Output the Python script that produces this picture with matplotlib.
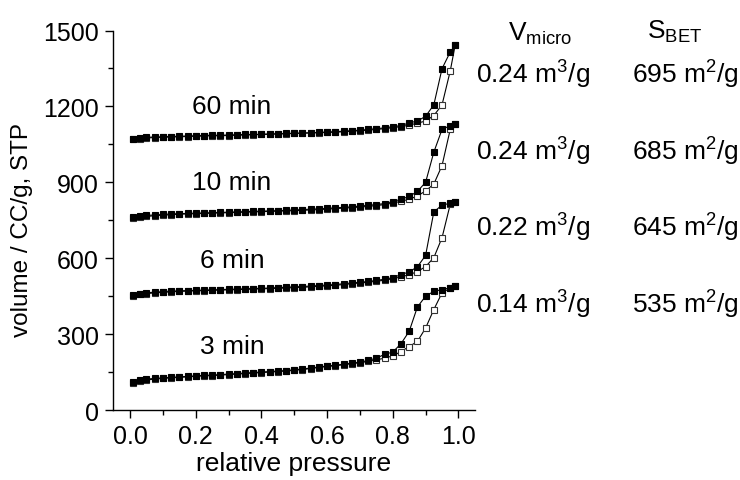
import matplotlib
matplotlib.use("Agg")
import matplotlib.pyplot as plt
from matplotlib.ticker import MultipleLocator

plt.rcParams["font.family"] = ["Liberation Sans", "DejaVu Sans"]
plt.rcParams["mathtext.fontset"] = "custom"
plt.rcParams["mathtext.rm"] = "Liberation Sans"
plt.rcParams["mathtext.it"] = "Liberation Sans:italic"

# relative pressure grid (adsorption branch, ascending)
ads_p = [0.01, 0.03, 0.05, 0.075, 0.10, 0.125, 0.15, 0.175, 0.20, 0.225,
         0.25, 0.275, 0.30, 0.325, 0.35, 0.375, 0.40, 0.425, 0.45, 0.475,
         0.50, 0.525, 0.55, 0.575, 0.60, 0.625, 0.65, 0.675, 0.70, 0.725,
         0.75, 0.775, 0.80, 0.825, 0.85, 0.875, 0.90, 0.925, 0.95, 0.975, 0.99]
# desorption branch, descending
des_p = ads_p[::-1]

ads_3 = [112, 118, 122, 125, 127, 129, 131, 133, 135, 137,
         138, 140, 142, 144, 146, 148, 150, 152, 154, 156,
         159, 162, 166, 170, 174, 177, 181, 185, 189, 196,
         205, 220, 229, 262, 311, 407, 450, 469, 476, 483, 490]
des_3 = [490, 482, 463, 397, 324, 271, 251, 231, 214, 205,
         198, 192, 187, 183, 179, 175, 172, 168, 164, 160,
         157, 154, 152, 150, 148, 146, 144, 142, 140, 138,
         136, 135, 133, 131, 129, 127, 125, 122, 119, 115, 108]

ads_6 = [456, 460, 463, 466, 468, 470, 471, 472, 473, 474,
         475, 476, 477, 478, 479, 480, 481, 482, 484, 485,
         487, 488, 490, 492, 494, 496, 499, 502, 505, 508,
         512, 517, 523, 535, 546, 566, 611, 783, 810, 817, 823]
des_6 = [823, 813, 681, 602, 567, 547, 535, 526, 519, 513,
         509, 505, 502, 499, 496, 493, 491, 489, 487, 485,
         484, 482, 481, 480, 479, 478, 477, 476, 475, 474,
         473, 472, 471, 470, 469, 467, 465, 463, 460, 457, 450]

ads_10 = [762, 766, 769, 771, 773, 775, 776, 777, 778, 779,
          780, 781, 782, 783, 784, 785, 786, 787, 788, 789,
          791, 792, 794, 795, 797, 799, 801, 803, 806, 809,
          812, 816, 824, 833, 844, 864, 900, 1019, 1109, 1124, 1131]
des_10 = [1131, 1109, 966, 893, 866, 846, 833, 825, 818, 812,
          808, 805, 802, 800, 798, 796, 794, 792, 791, 789,
          788, 787, 786, 785, 784, 783, 782, 781, 780, 779,
          778, 777, 776, 775, 774, 772, 770, 768, 765, 762, 758]

ads_60 = [1073, 1076, 1078, 1079, 1080, 1081, 1082, 1083, 1084, 1085,
          1086, 1086, 1087, 1088, 1089, 1089, 1090, 1091, 1092, 1093,
          1094, 1095, 1096, 1097, 1099, 1100, 1102, 1104, 1106, 1109,
          1112, 1115, 1120, 1124, 1135, 1142, 1161, 1206, 1349, 1415, 1442]
des_60 = [1442, 1340, 1206, 1164, 1142, 1134, 1126, 1120, 1116, 1112,
          1109, 1106, 1104, 1102, 1100, 1098, 1097, 1096, 1095, 1094,
          1093, 1092, 1091, 1090, 1089, 1088, 1087, 1086, 1085, 1084,
          1084, 1083, 1082, 1081, 1080, 1079, 1078, 1077, 1075, 1073, 1070]

labels = ["3 min", "6 min", "10 min", "60 min"]
label_y = [254, 591, 901, 1202]
v_micro = ["0.14", "0.22", "0.24", "0.24"]
s_bet = ["535", "645", "685", "695"]

fig = plt.figure(figsize=(7.4, 4.81), dpi=100)
ax = fig.add_axes([0.1527, 0.1455, 0.489, 0.789])

series = [(ads_3, des_3), (ads_6, des_6), (ads_10, des_10), (ads_60, des_60)]
for ads, des in series:
    ax.plot(des_p, des, "-s", color="k", lw=0.8, ms=4.8, mfc="white",
            mec="#333333", mew=0.8)
    ax.plot(ads_p, ads, "-s", color="k", lw=0.8, ms=4.8, mfc="k", mec="k",
            mew=0.8)

for lab, y in zip(labels, label_y):
    ax.text(0.31, y, lab, ha="center", va="center", fontsize=19)

ax.set_xlim(-0.052, 1.05)
ax.set_ylim(0, 1500)
ax.xaxis.set_major_locator(MultipleLocator(0.2))
ax.xaxis.set_minor_locator(MultipleLocator(0.1))
ax.yaxis.set_major_locator(MultipleLocator(300))
ax.yaxis.set_minor_locator(MultipleLocator(150))
ax.xaxis.set_major_formatter(plt.FuncFormatter(lambda v, p: f"{v:.1f}"))
ax.tick_params(which="major", direction="out", length=6, width=1,
               labelsize=18, pad=4)
ax.tick_params(which="minor", direction="out", length=3.5, width=1)
for side in ("top", "right"):
    ax.spines[side].set_visible(False)
for side in ("left", "bottom"):
    ax.spines[side].set_linewidth(1)

ax.set_xlabel("relative pressure", fontsize=19, labelpad=2)
ax.set_ylabel("volume / CC/g, STP", fontsize=17.5)
ax.yaxis.set_label_coords(-0.222, 0.478)

# table of porosity values at the right
fig.text(540 / 740, 1 - 34 / 481, r"V$\mathregular{_{micro}}$",
         ha="center", va="center", fontsize=19)
fig.text(675 / 740, 1 - 32 / 481, r"S$\mathregular{_{BET}}$",
         ha="center", va="center", fontsize=19)
row_y = [305, 228, 152, 75]
for v, s, y in zip(v_micro, s_bet, row_y):
    fig.text(476 / 740, 1 - y / 481, v + r" m$\mathregular{^3}$/g",
             ha="left", va="center", fontsize=19)
    fig.text(632 / 740, 1 - y / 481, s + r" m$\mathregular{^2}$/g",
             ha="left", va="center", fontsize=19)

fig.savefig("out.png", dpi=100)
